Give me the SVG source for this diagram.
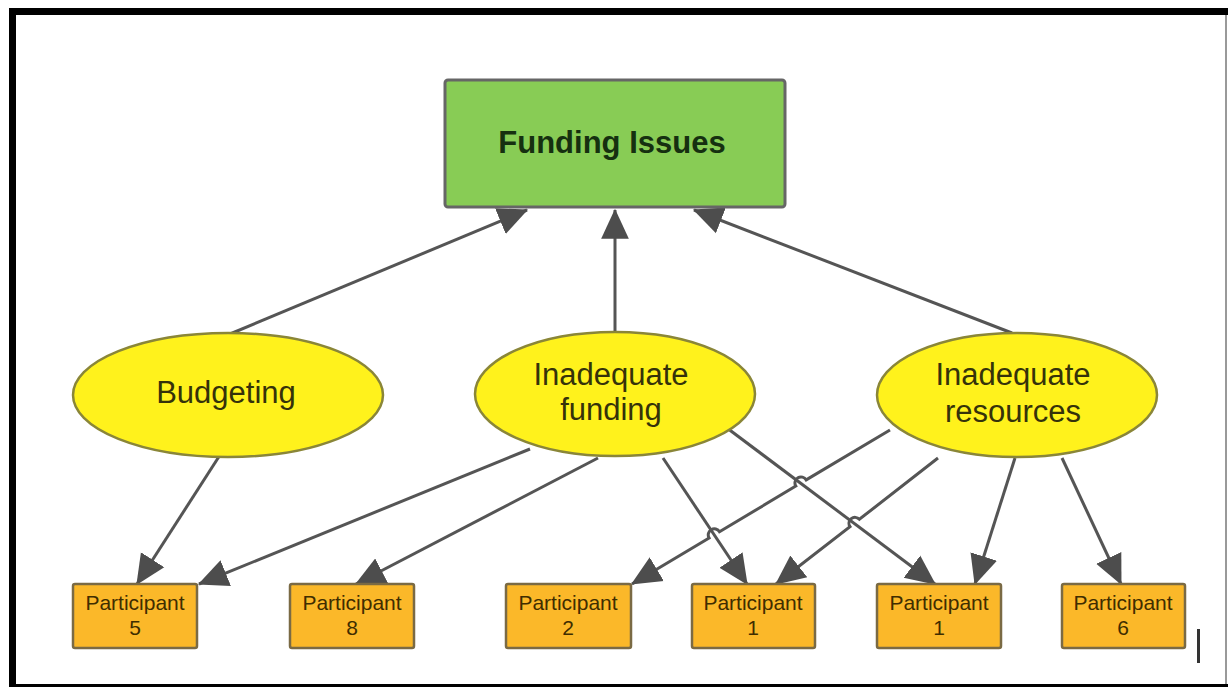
<svg xmlns="http://www.w3.org/2000/svg" width="1228" height="687" viewBox="0 0 1228 687">
<style>
.frame{fill:#000}
.conn{fill:none;stroke:#555;stroke-width:3}
.top{fill:#88cc55;stroke:#666;stroke-width:3}
.ell{fill:#fff21c;stroke:#8a8638;stroke-width:2.5}
.part{fill:#fbb829;stroke:#7a6a44;stroke-width:2.5}
.t1{font-family:"Liberation Sans",Arial,sans-serif;font-weight:bold;font-size:31px;fill:#163010;text-anchor:middle}
.t2{font-family:"Liberation Sans",Arial,sans-serif;font-size:31px;fill:#35320a;text-anchor:middle}
.t3{font-family:"Liberation Sans",Arial,sans-serif;font-size:21px;fill:#3f2d00;text-anchor:middle}
</style>
<defs>
<marker id="arr" markerUnits="userSpaceOnUse" markerWidth="30" markerHeight="30" viewBox="0 0 26 24" refX="25" refY="12" orient="auto">
<path d="M0,0 L26,12 L0,24 Z" fill="#4d4d4d"/>
</marker>
</defs>
<rect width="1228" height="687" fill="#fff"/>
<g id="frame">
<rect class="frame" x="9" y="8" width="1219" height="7"/>
<rect class="frame" x="9" y="8" width="7" height="679"/>
<rect class="frame" x="9" y="684" width="1219" height="3"/>
<rect x="1225" y="15" width="2" height="669" fill="#999"/>
<rect x="1197" y="629" width="3" height="34" fill="#333"/>
</g>
<g id="connectors">
<path class="conn" marker-end="url(#arr)" d="M230,334 L527,210"/>
<path class="conn" marker-end="url(#arr)" d="M615,332 L615,210"/>
<path class="conn" marker-end="url(#arr)" d="M1012,333 L694,210"/>
<path class="conn" marker-end="url(#arr)" d="M220,455 L137,584"/>
<path class="conn" marker-end="url(#arr)" d="M530,449 L199,584"/>
<path class="conn" marker-end="url(#arr)" d="M598,458 L356,584"/>
<path class="conn" marker-end="url(#arr)" d="M663,458 L747,584"/>
<path class="conn" marker-end="url(#arr)" d="M727,428 L935,584"/>
<path class="conn" marker-end="url(#arr)" d="M890,430 L806.2,479.9 A6,6 0 0 0 795.8,486.1 L719.5,531.8 A6,6 0 0 0 709.1,538 L632,584"/>
<path class="conn" marker-end="url(#arr)" d="M938,458 L859.4,519.3 A6,6 0 0 0 850,526.7 L776,584"/>
<path class="conn" marker-end="url(#arr)" d="M1015,458 L975,584"/>
<path class="conn" marker-end="url(#arr)" d="M1062,458 L1121,584"/>
</g>
<g id="funding-issues">
<rect class="top" x="445" y="80" width="340" height="127" rx="3"/>
<text class="t1" x="612" y="153">Funding Issues</text>
</g>
<g id="budgeting">
<ellipse class="ell" cx="228" cy="395" rx="155" ry="62"/>
<text class="t2" x="226" y="403">Budgeting</text>
</g>
<g id="inadequate-funding">
<ellipse class="ell" cx="615" cy="394" rx="140" ry="62"/>
<text class="t2" x="611" y="385">Inadequate</text>
<text class="t2" x="611" y="420">funding</text>
</g>
<g id="inadequate-resources">
<ellipse class="ell" cx="1017" cy="395" rx="140" ry="62"/>
<text class="t2" x="1013" y="385">Inadequate</text>
<text class="t2" x="1013" y="422">resources</text>
</g>
<g id="participant-5">
<rect class="part" x="73" y="584" width="124" height="64" rx="2"/>
<text class="t3" x="135" y="610">Participant</text>
<text class="t3" x="135" y="635">5</text>
</g>
<g id="participant-8">
<rect class="part" x="290" y="584" width="124" height="64" rx="2"/>
<text class="t3" x="352" y="610">Participant</text>
<text class="t3" x="352" y="635">8</text>
</g>
<g id="participant-2">
<rect class="part" x="506" y="584" width="125" height="64" rx="2"/>
<text class="t3" x="568" y="610">Participant</text>
<text class="t3" x="568" y="635">2</text>
</g>
<g id="participant-1a">
<rect class="part" x="692" y="584" width="123" height="64" rx="2"/>
<text class="t3" x="753" y="610">Participant</text>
<text class="t3" x="753" y="635">1</text>
</g>
<g id="participant-1b">
<rect class="part" x="877" y="584" width="124" height="64" rx="2"/>
<text class="t3" x="939" y="610">Participant</text>
<text class="t3" x="939" y="635">1</text>
</g>
<g id="participant-6">
<rect class="part" x="1062" y="584" width="123" height="64" rx="2"/>
<text class="t3" x="1123" y="610">Participant</text>
<text class="t3" x="1123" y="635">6</text>
</g>
</svg>
